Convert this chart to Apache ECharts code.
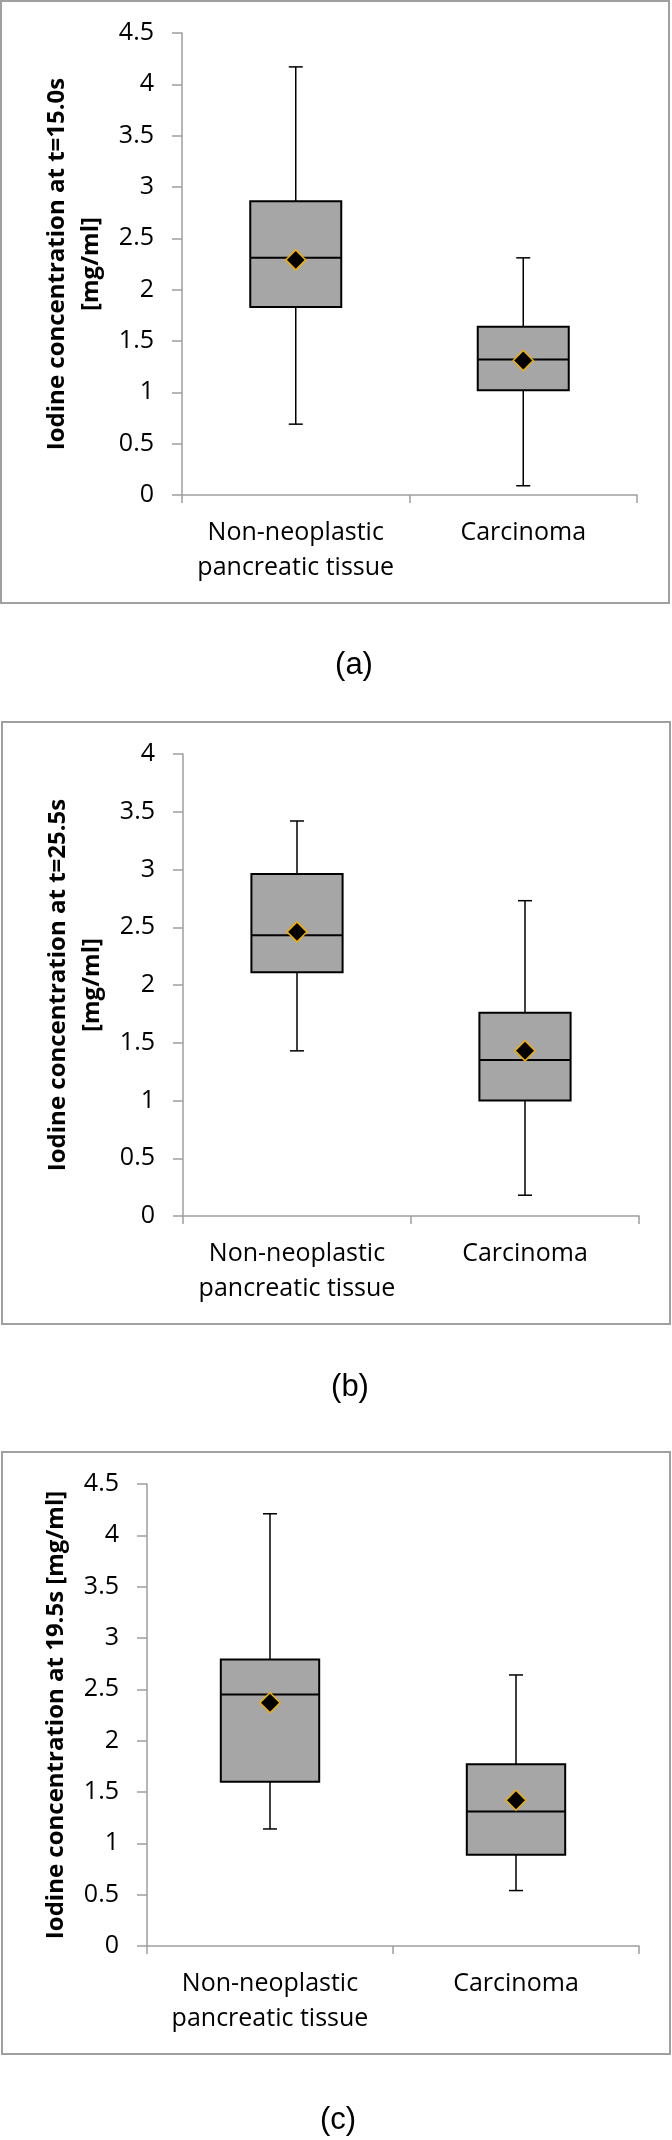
<!DOCTYPE html>
<html>
<head>
<meta charset="utf-8">
<script src="https://cdn.jsdelivr.net/npm/echarts@6/dist/echarts.min.js"></script>
<style>
  html, body { margin: 0; padding: 0; background: #fff; }
  #chart { width: 672px; height: 2140px; }
</style>
</head>
<body>
<div id="chart"></div>
<script>
// ---- Data ----
const categories = ['Non-neoplastic\npancreatic tissue', 'Carcinoma'];

// Panel (a): t = 15.0 s
const aMin    = [0.69, 0.09];
const aQ1     = [1.83, 1.02];
const aMedian = [2.31, 1.32];
const aQ3     = [2.86, 1.64];
const aMax    = [4.17, 2.31];
const aMean   = [2.29, 1.31];

// Panel (b): t = 25.5 s
const bMin    = [1.43, 0.18];
const bQ1     = [2.11, 1.00];
const bMedian = [2.43, 1.35];
const bQ3     = [2.96, 1.76];
const bMax    = [3.42, 2.73];
const bMean   = [2.46, 1.43];

// Panel (c): 19.5 s
const cMin    = [1.14, 0.54];
const cQ1     = [1.60, 0.89];
const cMedian = [2.45, 1.31];
const cQ3     = [2.79, 1.77];
const cMax    = [4.21, 2.64];
const cMean   = [2.37, 1.42];

const yMaxA = 4.5, yMaxB = 4, yMaxC = 4.5;
const yTitleA = 'Iodine concentration at t=15.0s\n[mg/ml]';
const yTitleB = 'Iodine concentration at t=25.5s\n[mg/ml]';
const yTitleC = 'Iodine concentration at 19.5s [mg/ml]';
const panelLabels = ['(a)', '(b)', '(c)'];

// ---- Styling ----
const FONT = '"Open Sans", Calibri, sans-serif';
const AXIS_COLOR = '#9E9E9E';
const BOX_FILL = '#A6A6A6';
const MEAN_BORDER = '#F0B000';

const panels = [
  { min: aMin, q1: aQ1, med: aMedian, q3: aQ3, max: aMax, mean: aMean, yMax: yMaxA, title: yTitleA,
    grid: { left: 182, top: 33, width: 455, height: 462 }, nameGap: 71,
    frame: { x: 1, y: 1, width: 668, height: 602 }, label: { x: 354, y: 665 } },
  { min: bMin, q1: bQ1, med: bMedian, q3: bQ3, max: bMax, mean: bMean, yMax: yMaxB, title: yTitleB,
    grid: { left: 183, top: 754, width: 456, height: 462 }, nameGap: 72,
    frame: { x: 2, y: 722, width: 668, height: 602 }, label: { x: 350, y: 1387 } },
  { min: cMin, q1: cQ1, med: cMedian, q3: cQ3, max: cMax, mean: cMean, yMax: yMaxC, title: yTitleC,
    grid: { left: 147, top: 1484, width: 492, height: 462 }, nameGap: 70,
    frame: { x: 2, y: 1452, width: 668, height: 602 }, label: { x: 338, y: 2120 } }
];

function renderBox(params, api) {
  const x = api.value(0);
  const pMin = api.coord([x, api.value(1)]);
  const pQ1  = api.coord([x, api.value(2)]);
  const pMed = api.coord([x, api.value(3)]);
  const pQ3  = api.coord([x, api.value(4)]);
  const pMax = api.coord([x, api.value(5)]);
  const bw = api.size([1, 0])[0] * 0.4;
  const cx = pMed[0];
  const cap = 7;
  const wStyle = { stroke: '#000', lineWidth: 1.5 };
  return {
    type: 'group',
    children: [
      { type: 'line', shape: { x1: cx, y1: pMax[1], x2: cx, y2: pQ3[1] }, style: wStyle },
      { type: 'line', shape: { x1: cx, y1: pQ1[1], x2: cx, y2: pMin[1] }, style: wStyle },
      { type: 'line', shape: { x1: cx - cap, y1: pMax[1], x2: cx + cap, y2: pMax[1] }, style: wStyle },
      { type: 'line', shape: { x1: cx - cap, y1: pMin[1], x2: cx + cap, y2: pMin[1] }, style: wStyle },
      { type: 'rect', shape: { x: cx - bw / 2, y: pQ3[1], width: bw, height: pQ1[1] - pQ3[1] },
        style: { fill: BOX_FILL, stroke: '#000', lineWidth: 2 } },
      { type: 'line', shape: { x1: cx - bw / 2, y1: pMed[1], x2: cx + bw / 2, y2: pMed[1] },
        style: { stroke: '#000', lineWidth: 2 } }
    ]
  };
}

const grids = [], xAxes = [], yAxes = [], series = [], graphics = [];
panels.forEach((p, i) => {
  grids.push(Object.assign({ containLabel: false, outerBoundsMode: 'none' }, p.grid));
  xAxes.push({
    gridIndex: i, type: 'category', data: categories,
    axisLine: { show: true, lineStyle: { color: AXIS_COLOR, width: 1.5 } },
    axisTick: { show: true, length: 8, lineStyle: { color: AXIS_COLOR, width: 1.5 } },
    axisLabel: { interval: 0, fontFamily: FONT, fontSize: 25, color: '#000', margin: 20, lineHeight: 35 },
    splitLine: { show: false }
  });
  yAxes.push({
    gridIndex: i, type: 'value', min: 0, max: p.yMax, interval: 0.5,
    axisLine: { show: true, lineStyle: { color: AXIS_COLOR, width: 1.5 } },
    axisTick: { show: true, length: 10, lineStyle: { color: AXIS_COLOR, width: 1.5 } },
    axisLabel: { fontFamily: FONT, fontSize: 25, color: '#000', margin: 28 },
    splitLine: { show: false },
    name: p.title, nameLocation: 'middle', nameRotate: 90, nameGap: p.nameGap,
    nameTextStyle: { fontFamily: FONT, fontWeight: 'bold', fontSize: 24, color: '#000', lineHeight: 34 }
  });
  series.push({
    type: 'custom', xAxisIndex: i, yAxisIndex: i,
    renderItem: renderBox,
    encode: { x: 0, y: [1, 2, 3, 4, 5] },
    data: categories.map((c, k) => [k, p.min[k], p.q1[k], p.med[k], p.q3[k], p.max[k]]),
    z: 2
  });
  series.push({
    type: 'scatter', xAxisIndex: i, yAxisIndex: i,
    symbol: 'diamond', symbolSize: 20,
    itemStyle: { color: '#000', borderColor: MEAN_BORDER, borderWidth: 1.5, opacity: 1 },
    data: categories.map((c, k) => [k, p.mean[k]]),
    z: 5
  });
  graphics.push({
    type: 'rect', shape: p.frame, silent: true,
    style: { fill: 'none', stroke: '#A0A0A0', lineWidth: 2 }, z: 0
  });
  graphics.push({
    type: 'text', x: p.label.x, y: p.label.y,
    style: { text: panelLabels[i], fontFamily: '"Liberation Sans", Arial, sans-serif', fontSize: 31,
             fill: '#000', align: 'center', verticalAlign: 'middle' }
  });
});

const chart = echarts.init(document.getElementById('chart'), null, { renderer: 'canvas' });
chart.setOption({
  animation: false,
  backgroundColor: '#fff',
  grid: grids,
  xAxis: xAxes,
  yAxis: yAxes,
  series: series,
  graphic: graphics
});
</script>
</body>
</html>
